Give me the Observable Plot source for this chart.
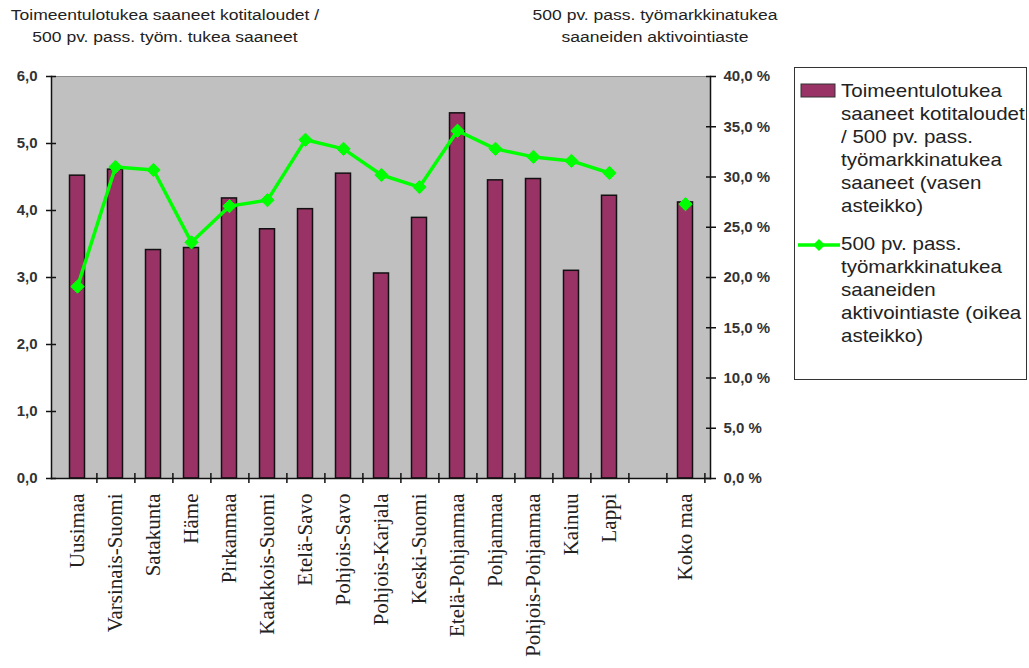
<!DOCTYPE html>
<html>
<head>
<meta charset="utf-8">
<script src="https://cdn.jsdelivr.net/npm/d3@7"></script>
<script src="https://cdn.jsdelivr.net/npm/@observablehq/plot@0.6"></script>
<style>
  body { margin: 0; background: #fff; }
  #wrap { position: relative; width: 1029px; height: 668px; font-family: "Liberation Sans", Arial, sans-serif; color: #222; overflow: hidden; }
  #chart { position: absolute; left: 0; top: 0; }
  .title { position: absolute; top: 4px; text-align: center; font-size: 14px; line-height: 22px; transform: scaleX(1.25); white-space: nowrap; }
  #legend { position: absolute; left: 794px; top: 67px; width: 233px; height: 313px; border: 1.5px solid #333; box-sizing: border-box; background: #fff; }
  .ltext { position: absolute; left: 46px; font-size: 19px; line-height: 23px; white-space: nowrap; color: #222; transform: scaleX(1.08); transform-origin: left top; }
  .lsym { position: absolute; }
</style>
</head>
<body>
<div id="wrap">
  <div id="chart"></div>
  <div class="title" id="t1" style="left:10px;width:310px;"></div>
  <div class="title" id="t2" style="left:530px;width:250px;"></div>
  <div id="legend"></div>
</div>
<script>
// ---- data ----
const regions = ["Uusimaa", "Varsinais-Suomi", "Satakunta", "Häme", "Pirkanmaa", "Kaakkois-Suomi", "Etelä-Savo", "Pohjois-Savo", "Pohjois-Karjala", "Keski-Suomi", "Etelä-Pohjanmaa", "Pohjanmaa", "Pohjois-Pohjanmaa", "Kainuu", "Lappi"];
const total = "Koko maa";
const ratioValues = [4.52, 4.61, 3.41, 3.44, 4.18, 3.72, 4.02, 4.55, 3.06, 3.89, 5.45, 4.45, 4.47, 3.10, 4.22];
const ratioTotal = 4.12;
const activationValues = [19.1, 31.0, 30.7, 23.5, 27.1, 27.7, 33.7, 32.8, 30.2, 29.0, 34.6, 32.8, 32.0, 31.6, 30.4];
const activationTotal = 27.3;
const leftTicks = [0, 1, 2, 3, 4, 5, 6];
const rightTicks = [0, 5, 10, 15, 20, 25, 30, 35, 40];
const leftMax = 6, rightMax = 40;
const titleLeft = ["Toimeentulotukea saaneet kotitaloudet /", "500 pv. pass. työm. tukea saaneet"];
const titleRight = ["500 pv. pass. työmarkkinatukea", "saaneiden aktivointiaste"];
const legendBar = ["Toimeentulotukea", "saaneet kotitaloudet", "/ 500 pv. pass.", "työmarkkinatukea", "saaneet (vasen", "asteikko)"];
const legendLine = ["500 pv. pass.", "työmarkkinatukea", "saaneiden", "aktivointiaste (oikea", "asteikko)"];

// ---- derived tables ----
const gap = "\u00a0";
const xDomain = [...regions, gap, total];
const barData = regions.map((r, i) => ({region: r, value: ratioValues[i]})).concat([{region: total, value: ratioTotal}]);
const lineData = regions.map((r, i) => ({region: r, pct: activationValues[i]}));
const dotData = lineData.concat([{region: total, pct: activationTotal}]);
const toLeft = p => p * leftMax / rightMax;
const fmtComma = v => v.toFixed(1).replace(".", ",");

const barColor = "#993366";
const lineColor = "#00ff00";

const chart = Plot.plot({
  width: 1029,
  height: 668,
  marginLeft: 51,
  marginRight: 319,
  marginTop: 76,
  marginBottom: 190,
  style: {fontFamily: "Liberation Sans, Arial, sans-serif", background: "transparent", color: "#222"},
  x: {type: "band", domain: xDomain, padding: 0},
  y: {domain: [0, leftMax]},
  marks: [
    Plot.frame({fill: "#c0c0c0", stroke: "#8a8a8a"}),
    Plot.barY(barData, {x: "region", y: "value", fill: barColor, stroke: "#111", strokeWidth: 1.5, insetLeft: 11.5, insetRight: 11.5}),
    Plot.line(lineData, {x: "region", y: d => toLeft(d.pct), stroke: lineColor, strokeWidth: 3.5, strokeLinejoin: "round"}),
    Plot.dot(dotData, {x: "region", y: d => toLeft(d.pct), symbol: "diamond2", r: 6, fill: lineColor, stroke: lineColor, strokeWidth: 1}),
    // axis lines
    Plot.frame({anchor: "left", stroke: "#111", strokeWidth: 1.5}),
    Plot.frame({anchor: "right", stroke: "#111", strokeWidth: 1.5}),
    Plot.frame({anchor: "bottom", stroke: "#111", strokeWidth: 1.5}),
    // left axis
    Plot.axisY({anchor: "left", ticks: leftTicks, tickSize: 10, dx: 5, fill: "none", stroke: "#111", strokeWidth: 1.5}),
    Plot.axisY({anchor: "left", ticks: leftTicks, tickSize: 0, tickPadding: 14, tickFormat: fmtComma, fontSize: 15, fontWeight: "bold", fill: "#333", label: null}),
    // right axis (percent)
    Plot.axisY({anchor: "right", ticks: rightTicks.map(toLeft), tickSize: 10, dx: -5, fill: "none", stroke: "#111", strokeWidth: 1.5}),
    Plot.axisY({anchor: "right", ticks: rightTicks.map(toLeft), tickSize: 0, tickPadding: 13, tickFormat: d => fmtComma(d * rightMax / leftMax) + " %", fontSize: 15, fontWeight: "bold", fill: "#333", label: null}),
    // bottom axis
    Plot.axisX({anchor: "bottom", tickSize: 10, dy: -5, dx: 19.4, fill: "none", stroke: "#111", strokeWidth: 1.5}),
    Plot.axisX({anchor: "bottom", tickSize: 0, tickPadding: 15, tickRotate: -90, fontSize: 21, fontFamily: "Liberation Serif, Times New Roman, serif", fill: "#222", label: null})
  ]
});
document.getElementById("chart").appendChild(chart);

document.getElementById("t1").innerHTML = titleLeft.join("<br>");
document.getElementById("t2").innerHTML = titleRight.join("<br>");

const legend = document.getElementById("legend");
legend.innerHTML = `
  <svg class="lsym" style="left:5px;top:15px" width="38" height="16"><rect x="1" y="1" width="34" height="13" fill="${barColor}" stroke="#333" stroke-width="1"/></svg>
  <div class="ltext" style="top:11px">${legendBar.join("<br>")}</div>
  <svg class="lsym" style="left:2px;top:169px" width="44" height="16"><line x1="1" y1="8" x2="43" y2="8" stroke="${lineColor}" stroke-width="3.5"/><path d="M22,2 L28,8 L22,14 L16,8 Z" fill="${lineColor}"/></svg>
  <div class="ltext" style="top:164px">${legendLine.join("<br>")}</div>`;
</script>
</body>
</html>
